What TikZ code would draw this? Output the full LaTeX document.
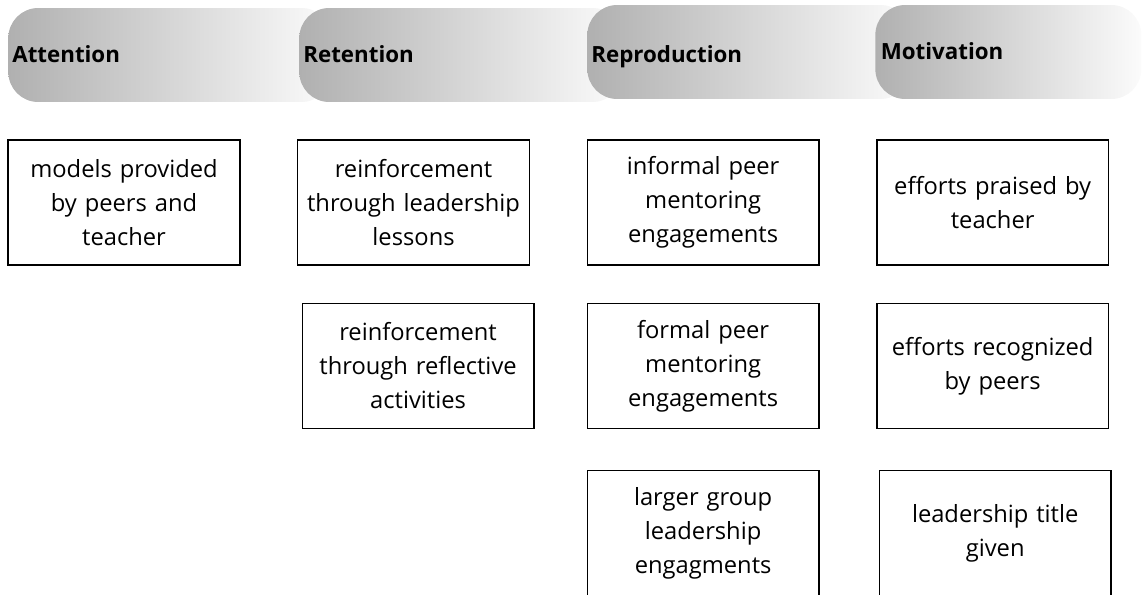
\documentclass[tikz,border=0pt]{standalone}
\usepackage{fontspec}
\setmainfont{Open Sans}
\usetikzlibrary{positioning}
\tikzset{x=0.02cm, y=-0.02cm,
node distance=0.74cm and 1.13cm,
stage/.style={
rectangle,
rounded corners=17pt,
left color=gray!62,
right color=white!97!gray,
anchor=west,
minimum width=6.44cm,
minimum height=1.88cm,
inner xsep=2.3pt,
text width=6.3cm,
text height=9.1pt,
text depth=0pt,
align=left,
font=\fontsize{12.7}{15}\selectfont\bfseries},
item/.style={
draw,
line width=0.8pt,
minimum width=4.62cm,
minimum height=2.5cm,
text width=4.4cm,
align=center,
font=\fontsize{13.5}{19.3}\selectfont}}

\begin{document}
\begin{tikzpicture}
\useasboundingbox (0,0) rectangle (1143,595);
\node[stage] (att) at (8,55) {Attention};
\node[stage] (ret) at (299,55) {Retention};
\node[stage, text height=12.5pt] (rep) at (587,52) {Reproduction};
\node[stage, minimum width=5.32cm, text width=5.1cm] (mot) at (875,52) {Motivation};
\node[item] (att1) at (124,202.5) {models provided\\by peers and\\teacher};
\node[item, right=of att1] (ret1) {reinforcement\\through leadership\\lessons};
\node[item, below=of ret1, xshift=0.09cm] (ret2) {reinforcement\\through reflective\\activities};
\node[item, right=of ret1] (rep1) {informal peer\\mentoring\\engagements};
\node[item, below=of rep1] (rep2) {formal peer\\mentoring\\engagements};
\node[item, below=0.82cm of rep2] (rep3) {larger group\\leadership\\engagments};
\node[item, right=of rep1] (mot1) {efforts praised by\\teacher};
\node[item, below=of mot1] (mot2) {efforts recognized\\by peers};
\node[item, below=0.82cm of mot2, xshift=0.05cm] (mot3) {leadership title\\given};
\end{tikzpicture}
\end{document}
